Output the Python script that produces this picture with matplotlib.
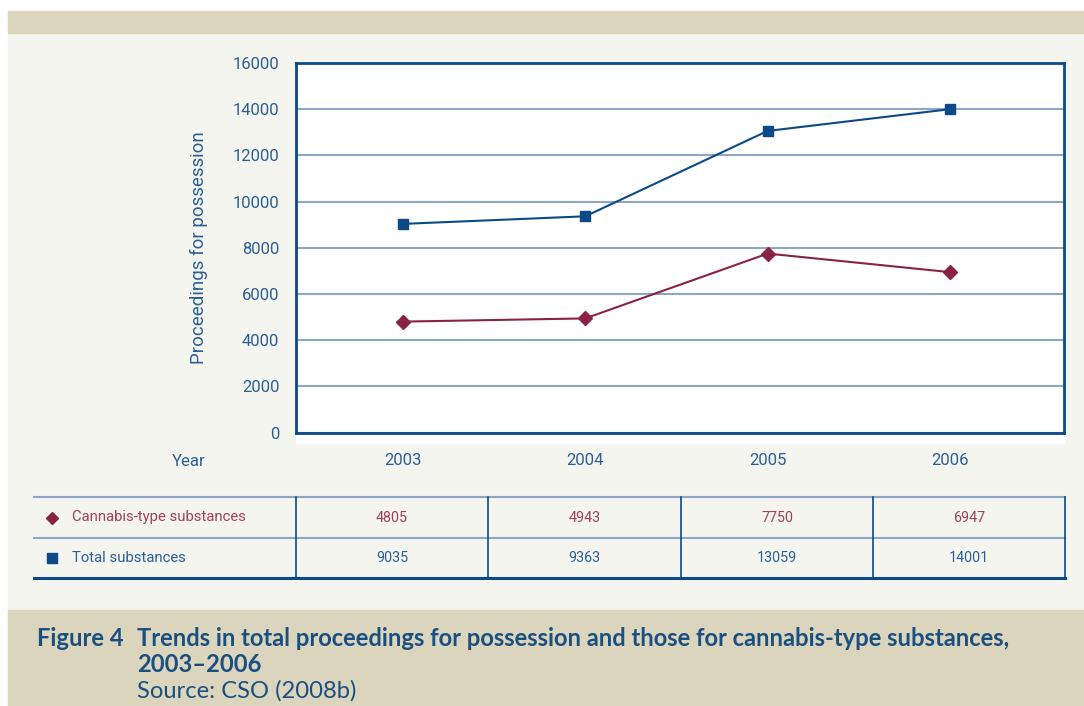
#!/usr/bin/env python3
# Proceedings for possession, 2003-2006: line chart with a data table below
import matplotlib.pyplot as plt
from matplotlib.lines import Line2D
from matplotlib.patches import Rectangle

years = [2003, 2004, 2005, 2006]
cannabis = [4805, 4943, 7750, 6947]
total = [9035, 9363, 13059, 14001]
series_names = ['Cannabis-type substances', 'Total substances']
yticks = [0, 2000, 4000, 6000, 8000, 10000, 12000, 14000, 16000]

BLUE = '#0b4a86'
MAROON = '#8a2343'
TEXT_BLUE = '#2a5f95'
TEXT_MAROON = '#a0405a'
GRID = '#8ea6c8'
PANEL = '#f5f5f0'
BEIGE = '#dbd5bd'
CAP = '#1a4f80'

plt.rcParams['font.family'] = ['Roboto', 'DejaVu Sans']

W, H = 1084, 706
fig = plt.figure(figsize=(W / 100, H / 100), dpi=100)
fig.patch.set_facecolor('white')

# full-figure overlay in pixel coordinates (y down)
bg = fig.add_axes([0, 0, 1, 1])
bg.set_xlim(0, W)
bg.set_ylim(H, 0)
bg.axis('off')
bg.add_patch(Rectangle((8, 11), W - 8, H - 11, color=PANEL, zorder=0))
bg.add_patch(Rectangle((8, 11), W - 8, 22, color=BEIGE, zorder=1))
bg.add_patch(Rectangle((8, 610), W - 8, H - 610, color=BEIGE, zorder=1))
bg.add_patch(Rectangle((296, 63), 768, 380, color='white', zorder=1))

# main chart
left, right, top, bottom = 296, 1064, 63, 432.6
ax = fig.add_axes([left / W, 1 - bottom / H, (right - left) / W, (bottom - top) / H])
ax.set_facecolor('white')
ax.plot(years, total, color=BLUE, lw=1.5, marker='s', ms=7.5, zorder=3)
ax.plot(years, cannabis, color=MAROON, lw=1.5, marker='D', ms=7, zorder=3)
ax.set_xlim(2002.414, 2006.625)
ax.set_ylim(0, 16000)
ax.set_yticks(yticks)
ax.set_yticklabels([str(t) for t in yticks])
ax.set_xticks(years)
ax.set_xticklabels([str(y) for y in years])
ax.tick_params(axis='both', length=0, labelsize=12, labelcolor=TEXT_BLUE)
ax.tick_params(axis='y', pad=12)
ax.tick_params(axis='x', pad=15)
ax.grid(axis='y', color=GRID, lw=1.5)
ax.set_axisbelow(True)
for s in ax.spines.values():
    s.set_color(BLUE)
    s.set_linewidth(2)
ax.set_ylabel('Proceedings for possession', fontsize=13.5, color=TEXT_BLUE, labelpad=18)
bg.text(189, 462, 'Year', fontsize=12, color=TEXT_BLUE, ha='center', va='center')

# data table
row_y = [497, 538, 578]
col_x = [34, 296, 488, 681, 873, 1065]
bg.plot([34, 1065], [row_y[0], row_y[0]], color=GRID, lw=1.5, zorder=2)
bg.plot([34, 1065], [row_y[1], row_y[1]], color=GRID, lw=1.5, zorder=2)
bg.plot([34, 1065], [row_y[2], row_y[2]], color=BLUE, lw=2.2, zorder=2)
for x in col_x[1:]:
    bg.plot([x, x], [row_y[0], row_y[2]], color=BLUE, lw=1.2, zorder=2)

rows = [(series_names[0], cannabis, MAROON, TEXT_MAROON, 'D', 6),
        (series_names[1], total, BLUE, TEXT_BLUE, 's', 6.5)]
for i, (name, vals, mc, tc, mk, ms) in enumerate(rows):
    yc = (row_y[i] + row_y[i + 1]) / 2
    bg.add_line(Line2D([52], [yc], marker=mk, ms=ms, color=mc, lw=0, zorder=3))
    bg.text(72, yc, name, fontsize=10.7, color=tc, va='center', ha='left')
    for j, v in enumerate(vals):
        xc = (col_x[j + 1] + col_x[j + 2]) / 2
        bg.text(xc, yc, str(v), fontsize=10.3, color=tc, va='center', ha='center')

# caption, sized so the first line spans the same width as the original
cap_font = ['Lato', 'DejaVu Sans']
line1 = bg.text(137, 638, 'Trends in total proceedings for possession and those for cannabis-type substances,',
                fontsize=15, fontweight='bold', color=CAP, family=cap_font, va='center')
r = fig.canvas.get_renderer()
cap_size = 15 * 876 / line1.get_window_extent(r).width
line1.set_fontsize(cap_size)
bg.text(37, 638, 'Figure 4', fontsize=cap_size, fontweight='bold', color=CAP,
        family=cap_font, va='center')
bg.text(137, 664, '2003\u20132006', fontsize=cap_size, fontweight='bold', color=CAP,
        family=cap_font, va='center')
bg.text(137, 691, 'Source: CSO (2008b)', fontsize=cap_size, color=CAP, family=cap_font,
        va='center')

fig.savefig('out.png', dpi=100, facecolor=fig.get_facecolor())
